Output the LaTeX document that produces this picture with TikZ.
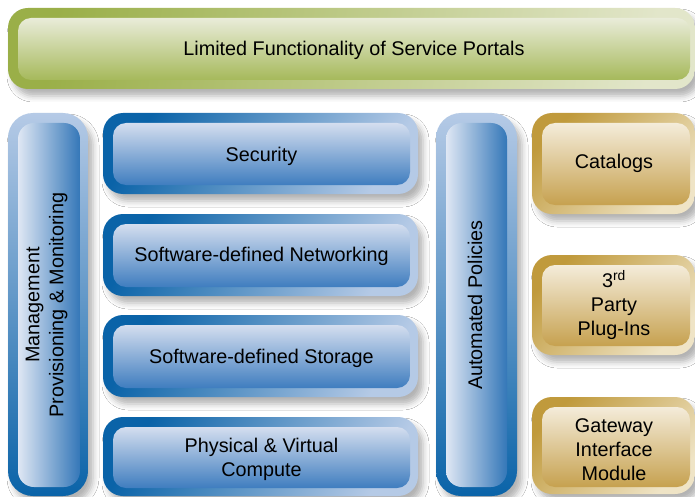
\documentclass[tikz,border=0pt]{standalone}
\usepackage{fontspec}
\setmainfont{Liberation Sans}
\usetikzlibrary{shadows.blur}
\definecolor{gDark}{HTML}{9AAF48}
\definecolor{gLight}{HTML}{E2E6CA}
\definecolor{gTop}{HTML}{E9ECD9}
\definecolor{gBot}{HTML}{A6B95B}
\definecolor{bDark}{HTML}{0A63A8}
\definecolor{bLight}{HTML}{B5CAE6}
\definecolor{bTop}{HTML}{D4DEEF}
\definecolor{bBot}{HTML}{3F7DBF}
\definecolor{vLeft}{HTML}{DFE7F4}
\definecolor{vRight}{HTML}{3477B8}
\definecolor{oDark}{HTML}{C09A3C}
\definecolor{oLight}{HTML}{EFE4C6}
\definecolor{oTop}{HTML}{F4ECDA}
\definecolor{oBot}{HTML}{C6A14F}
\begin{document}
\begin{tikzpicture}[x=1pt,y=-1pt,
  every node/.style={inner sep=0pt, outer sep=0pt},
  lbl/.style={font=\fontsize{19.8}{24}\selectfont, align=center, text=black},
  frame/.style={rounded corners=20pt, blur shadow={shadow xshift=5pt, shadow yshift=-7pt, shadow opacity=30, shadow blur radius=6pt}},
  inner/.style={rounded corners=13pt},
  gframe/.style={frame, left color=gDark, right color=gLight, shading angle=80},
  gfill/.style={inner, top color=gTop, bottom color=gBot},
  bframe/.style={frame, left color=bDark, right color=bLight, shading angle=60},
  bfill/.style={inner, top color=bTop, bottom color=bBot},
  vframe/.style={frame, rounded corners=25pt, top color=bLight, bottom color=bDark},
  vfill/.style={inner, rounded corners=16pt, left color=vLeft, right color=vRight},
  oframe/.style={frame, left color=oDark, right color=oLight, shading angle=45},
  ofill/.style={inner, top color=oTop, bottom color=oBot},
]
\useasboundingbox (0,0) rectangle (695,497);
\fill[white] (0,0) rectangle (695,497);

% top bar
\node[gframe, minimum width=687pt, minimum height=81pt] (portals-frame) at (351.5,48.5) {};
\node[gfill, minimum width=672pt, minimum height=62pt] (portals) at (354,49) {};
\node[lbl] (portals-text) at (354,50) {Limited Functionality of Service Portals};

% left vertical bar
\node[vframe, minimum width=80pt, minimum height=383pt] (mgmt-frame) at (48,304.5) {};
\node[vfill, minimum width=62pt, minimum height=364pt] (mgmt) at (49,305) {};
\node[lbl, rotate=90] (mgmt-text) at (46.5,305) {Management\\Provisioning \& Monitoring};

% blue boxes
\node[bframe, minimum width=315pt, minimum height=81pt] (sec-frame) at (260.5,153.5) {};
\node[bfill, minimum width=297pt, minimum height=62pt] (sec) at (261.5,154) {};
\node[lbl] (sec-text) at (261.5,156) {Security};

\node[bframe, minimum width=315pt, minimum height=82pt] (net-frame) at (260.5,255) {};
\node[bfill, minimum width=297pt, minimum height=63pt] (net) at (261.5,255.5) {};
\node[lbl] (net-text) at (261.5,256) {Software-defined Networking};

\node[bframe, minimum width=315pt, minimum height=82pt] (sto-frame) at (260.5,356) {};
\node[bfill, minimum width=297pt, minimum height=63pt] (sto) at (261.5,356.5) {};
\node[lbl] (sto-text) at (261.5,358) {Software-defined Storage};

\node[bframe, minimum width=315pt, minimum height=79pt] (phy-frame) at (260.5,456.5) {};
\node[bfill, minimum width=297pt, minimum height=61pt] (phy) at (261.5,457.5) {};
\node[lbl] (phy-text) at (261.5,459) {Physical \& Virtual\\Compute};

% automated policies bar
\node[vframe, minimum width=81pt, minimum height=383pt] (auto-frame) at (476.5,304.5) {};
\node[vfill, minimum width=61pt, minimum height=364pt] (auto) at (476.5,305) {};
\node[lbl, rotate=90] (auto-text) at (475,305) {Automated Policies};

% gold boxes
\node[oframe, minimum width=163pt, minimum height=101pt] (cat-frame) at (613.5,163.5) {};
\node[ofill, minimum width=148pt, minimum height=82pt] (cat) at (616,164) {};
\node[lbl] (cat-text) at (614,163) {Catalogs};

\node[oframe, minimum width=163pt, minimum height=100pt] (plug-frame) at (613.5,305) {};
\node[ofill, minimum width=148pt, minimum height=81pt] (plug) at (616,305.5) {};
\node[lbl] (plug-text) at (614,305) {3\textsuperscript{rd}\\Party\\Plug-Ins};

\node[oframe, minimum width=163pt, minimum height=97pt] (gw-frame) at (613.5,445.5) {};
\node[ofill, minimum width=148pt, minimum height=80pt] (gw) at (616,447) {};
\node[lbl] (gw-text) at (614,449.5) {Gateway\\Interface\\Module};
\end{tikzpicture}
\end{document}
